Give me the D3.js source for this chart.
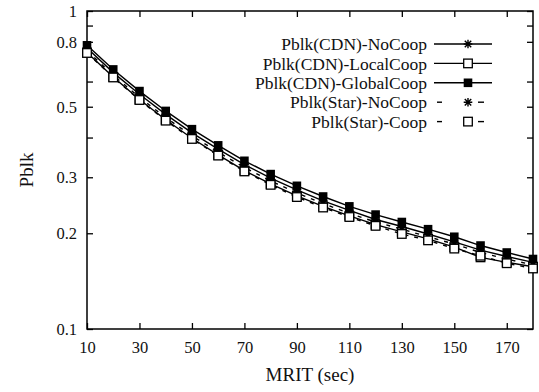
<!DOCTYPE html>
<html><head><meta charset="utf-8">
<script src="https://cdn.jsdelivr.net/npm/d3@7"></script>
<style>body{margin:0;background:#fff;} svg{display:block;}</style>
</head><body>
<svg id="c" width="539" height="392"></svg>
<script>
const mrit = [10,20,30,40,50,60,70,80,90,100,110,120,130,140,150,160,170,180];
const cdnNoCoop = [0.765,0.64,0.547,0.473,0.414,0.368,0.329,0.298,0.274,0.253,0.236,0.221,0.21,0.199,0.188,0.177,0.169,0.162];
const cdnLocalCoop = [0.74,0.62,0.527,0.455,0.398,0.353,0.315,0.286,0.262,0.243,0.227,0.213,0.202,0.192,0.181,0.168,0.162,0.157];
const cdnGlobalCoop = [0.78,0.655,0.56,0.485,0.425,0.378,0.338,0.307,0.282,0.261,0.243,0.229,0.217,0.206,0.195,0.183,0.174,0.166];
const starNoCoop = [0.75,0.628,0.535,0.462,0.405,0.36,0.322,0.292,0.268,0.248,0.231,0.217,0.206,0.195,0.185,0.174,0.166,0.159];
const starCoop = [0.738,0.618,0.525,0.452,0.396,0.351,0.313,0.284,0.26,0.241,0.225,0.211,0.199,0.19,0.179,0.17,0.161,0.155];
const seriesNames = ["Pblk(CDN)-NoCoop","Pblk(CDN)-LocalCoop","Pblk(CDN)-GlobalCoop","Pblk(Star)-NoCoop","Pblk(Star)-Coop"];
const xTicks = [10,30,50,70,90,110,130,150,170];
const yTicks = [1,0.9,0.8,0.6,0.5,0.4,0.3,0.2,0.1];
const yTickLabels = ["1","","0.8","","0.5","","0.3","0.2","0.1"];
const xLabel = "MRIT (sec)";
const yLabel = "Pblk";

const series = [
  {name: seriesNames[0], values: cdnNoCoop, marker: "star", dash: null},
  {name: seriesNames[1], values: cdnLocalCoop, marker: "open", dash: null},
  {name: seriesNames[2], values: cdnGlobalCoop, marker: "filled", dash: null},
  {name: seriesNames[3], values: starNoCoop, marker: "star", dash: "4,6"},
  {name: seriesNames[4], values: starCoop, marker: "open", dash: "4,6"}
];

const svg = d3.select("#c");
const L = 87, R = 533, T = 11, B = 329;
const x = d3.scaleLinear().domain([10,180]).range([L,R]);
const y = d3.scaleLog().domain([0.1,1]).range([B,T]);
const font = "'Liberation Serif','Times New Roman',serif";

// axes
const axL = svg.append("g").attr("transform",`translate(${L},0)`)
  .call(d3.axisLeft(y).tickValues(yTicks).tickSize(-6).tickPadding(10).tickFormat((d,i)=>yTickLabels[i]));
const axR = svg.append("g").attr("transform",`translate(${R},0)`)
  .call(d3.axisRight(y).tickValues(yTicks).tickSize(-6).tickFormat(""));
const axB = svg.append("g").attr("transform",`translate(0,${B})`)
  .call(d3.axisBottom(x).tickValues(xTicks).tickSize(-6).tickPadding(12));
const axT = svg.append("g").attr("transform",`translate(0,${T})`)
  .call(d3.axisTop(x).tickValues(xTicks).tickSize(-6).tickFormat(""));
[axL,axR,axB,axT].forEach(a=>{
  a.select(".domain").remove();
  a.selectAll("line").attr("stroke","#000").attr("stroke-width",1.3);
  a.selectAll("text").attr("font-family",font).attr("font-size",16.5).attr("fill","#111");
});
svg.append("rect").attr("x",L).attr("y",T).attr("width",R-L).attr("height",B-T)
  .attr("fill","none").attr("stroke","#000").attr("stroke-width",1.5);

svg.append("text").attr("x",(L+R)/2).attr("y",381).attr("text-anchor","middle")
  .attr("font-family",font).attr("font-size",19).attr("fill","#111").text(xLabel);
svg.append("text").attr("transform","translate(33,170) rotate(-90)").attr("text-anchor","middle")
  .attr("font-family",font).attr("font-size",19).attr("fill","#111").text(yLabel);

function drawMarker(g, cx, cy, type){
  const s = 4.3;
  if(type==="filled"){
    g.append("rect").attr("x",cx-s).attr("y",cy-s).attr("width",2*s).attr("height",2*s).attr("fill","#000");
  } else if(type==="open"){
    g.append("rect").attr("x",cx-s).attr("y",cy-s).attr("width",2*s).attr("height",2*s)
      .attr("fill","#fff").attr("stroke","#000").attr("stroke-width",1.3);
  } else {
    const p = `M${cx-s},${cy}L${cx+s},${cy}M${cx},${cy-s}L${cx},${cy+s}M${cx-s*0.75},${cy-s*0.75}L${cx+s*0.75},${cy+s*0.75}M${cx-s*0.75},${cy+s*0.75}L${cx+s*0.75},${cy-s*0.75}`;
    g.append("path").attr("d",p).attr("stroke","#000").attr("stroke-width",1.4).attr("fill","none");
  }
}

const line = d3.line().x((d,i)=>x(mrit[i])).y(d=>y(d));
const plot = svg.append("g");
series.forEach(s=>{
  plot.append("path").datum(s.values).attr("d",line).attr("fill","none")
    .attr("stroke","#000").attr("stroke-width",1.4).attr("stroke-dasharray",s.dash);
});
series.forEach(s=>{
  const g = plot.append("g");
  s.values.forEach((v,i)=>drawMarker(g,x(mrit[i]),y(v),s.marker));
});

// legend
const leg = svg.append("g");
series.forEach((s,i)=>{
  const ly = 44 + i*19.4;
  leg.append("text").attr("x",427).attr("y",ly).attr("dy","0.35em").attr("text-anchor","end")
    .attr("font-family",font).attr("font-size",17.5).attr("fill","#111").text(s.name);
  if(s.dash){
    [[437,442],[478,484]].forEach(([a,b])=>leg.append("line").attr("x1",a).attr("x2",b).attr("y1",ly).attr("y2",ly)
      .attr("stroke","#000").attr("stroke-width",1.4));
  } else {
    leg.append("line").attr("x1",434).attr("x2",492).attr("y1",ly).attr("y2",ly)
      .attr("stroke","#000").attr("stroke-width",1.4);
  }
  const g = leg.append("g");
  drawMarker(g,468,ly,s.marker);
});
</script>
</body></html>
